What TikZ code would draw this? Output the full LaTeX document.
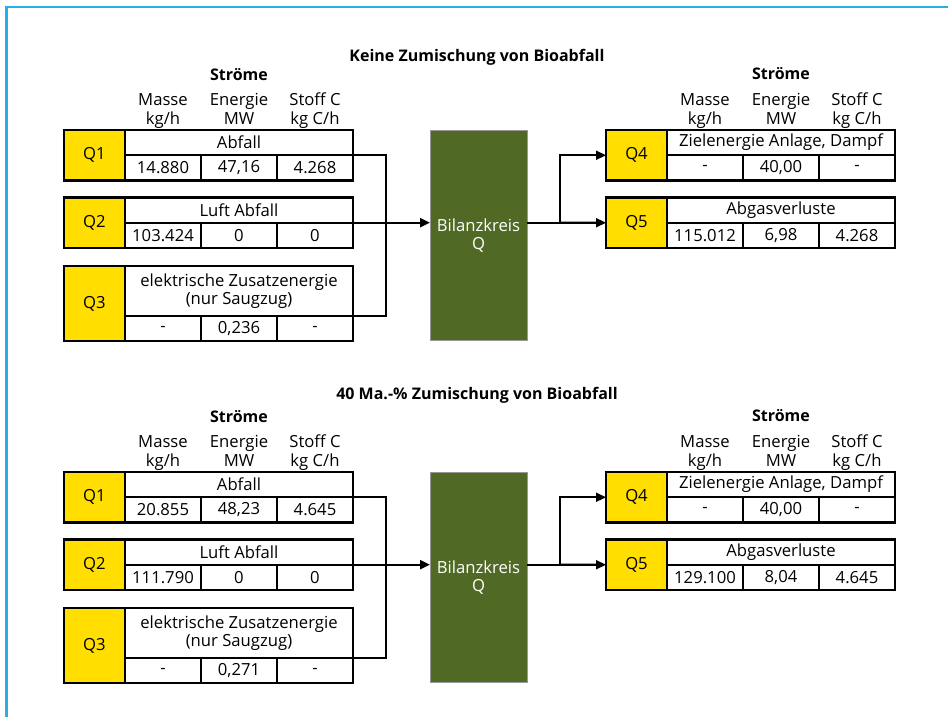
\documentclass[tikz,border=0pt]{standalone}
\usepackage{fontspec}
\setmainfont{Open Sans}
\usetikzlibrary{arrows.meta}
\definecolor{qyellow}{RGB}{255,222,0}
\definecolor{bkgreen}{RGB}{80,106,38}
\definecolor{framebl}{RGB}{40,175,230}
\newcommand\uu{0.75pt}
\tikzset{
  every node/.style={font=\fontsize{12.5}{13.9}\selectfont, inner sep=0pt, outer sep=0pt},
  cell/.style={draw=black, line width=1.6pt, fill=white, minimum height=25.3*0.75pt,
    minimum width=76*0.75pt, anchor=north west},
  titlecell/.style={cell, minimum width=228*0.75pt, align=center},
  qcell/.style={draw=black, line width=1.6pt, fill=qyellow, minimum width=61*0.75pt, anchor=north east},
  bkbox/.style={draw=black!40, line width=0.6pt, fill=bkgreen, text=white, align=center,
    minimum width=97*0.75pt, minimum height=210*0.75pt},
  conn/.style={draw=black, line width=1.6pt},
  arr/.style={-{Triangle[length=10*0.75pt, width=9*0.75pt]}},
  headtxt/.style={align=center, font=\fontsize{12.5}{14.6}\selectfont},
  boldtxt/.style={font=\fontsize{12}{13}\selectfont\bfseries}
}
\newcommand\qblock[9]{%
  \node[titlecell, minimum height=#4*\uu] (#1t) at (#2,#3) {#6};
  \node[cell] (#1a) at (#1t.south west) {#7};
  \node[cell] (#1b) at (#1a.north east) {#8};
  \node[cell] (#1c) at (#1b.north east) {#9};
  \node[qcell, minimum height=(#4+25.3)*\uu] (#1q) at (#1t.north west) {#5};
}
\newcommand\heads[4]{% prefix, x of first column, y of Stroeme, y of headers
  \node[boldtxt] (#1s) at (#2+76,#3) {Ströme};
  \node[headtxt] (#1m) at (#2,#4) {Masse\strut\\kg/h\strut};
  \node[headtxt] (#1e) at (#2+76,#4) {Energie\strut\\MW\strut};
  \node[headtxt] (#1c) at (#2+152,#4) {Stoff C\strut\\kg C/h\strut};
}
\begin{document}
\begin{tikzpicture}[x=0.75pt, y=-0.75pt]
\useasboundingbox (0,0) rectangle (948,717);
\draw[framebl, line width=1.6pt] (6.5,717) -- (6.5,7) -- (948,7);

% ---------- section 1 ----------
\begin{scope}
\node[boldtxt] (atitle) at (477,57) {Keine Zumischung von Bioabfall};
\heads{ahl}{163}{75}{111}
\heads{ahr}{705}{74}{111}
\qblock{aq1}{125}{130}{25.2}{Q1}{Abfall}{14.880}{47,16}{4.268}
\qblock{aq2}{125}{197.5}{25.2}{Q2}{Luft Abfall}{103.424}{0}{0}
\qblock{aq3}{125}{266}{50}{Q3}{elektrische Zusatzenergie\\(nur Saugzug)}{-}{0,236}{-}
\qblock{aq4}{667}{130}{25.2}{Q4}{Zielenergie Anlage, Dampf}{-}{40,00}{-}
\qblock{aq5}{667}{197.5}{25.2}{Q5}{Abgasverluste}{115.012}{6,98}{4.268}
\node[bkbox] (abk) at (478.5,235.7) {Bilanzkreis\\Q};
\coordinate (ajin) at (386,222.7);
\coordinate (ajout) at (560,222.7);
\draw[conn] (aq1t.south east) -| (ajin);
\draw[conn] (aq3t.south east) -| (ajin);
\draw[conn,arr] (aq2t.south east) -- (aq2t.south east -| abk.west);
\draw[conn] (abk.east |- ajout) -- (ajout);
\draw[conn,arr] (ajout) |- (aq4q.west);
\draw[conn,arr] (ajout) -- (aq5q.west);
\end{scope}

% ---------- section 2 ----------
\begin{scope}[shift={(0,342)}]
\node[boldtxt] (btitle) at (477,53) {40 Ma.-\% Zumischung von Bioabfall};
\heads{bhl}{163}{75}{111}
\heads{bhr}{705}{74}{111}
\qblock{bq1}{125}{130}{25.2}{Q1}{Abfall}{20.855}{48,23}{4.645}
\qblock{bq2}{125}{197.5}{25.2}{Q2}{Luft Abfall}{111.790}{0}{0}
\qblock{bq3}{125}{266}{50}{Q3}{elektrische Zusatzenergie\\(nur Saugzug)}{-}{0,271}{-}
\qblock{bq4}{667}{130}{25.2}{Q4}{Zielenergie Anlage, Dampf}{-}{40,00}{-}
\qblock{bq5}{667}{197.5}{25.2}{Q5}{Abgasverluste}{129.100}{8,04}{4.645}
\node[bkbox] (bbk) at (478.5,235.7) {Bilanzkreis\\Q};
\coordinate (bjin) at (386,222.7);
\coordinate (bjout) at (560,222.7);
\draw[conn] (bq1t.south east) -| (bjin);
\draw[conn] (bq3t.south east) -| (bjin);
\draw[conn,arr] (bq2t.south east) -- (bq2t.south east -| bbk.west);
\draw[conn] (bbk.east |- bjout) -- (bjout);
\draw[conn,arr] (bjout) |- (bq4q.west);
\draw[conn,arr] (bjout) -- (bq5q.west);
\end{scope}
\end{tikzpicture}
\end{document}
